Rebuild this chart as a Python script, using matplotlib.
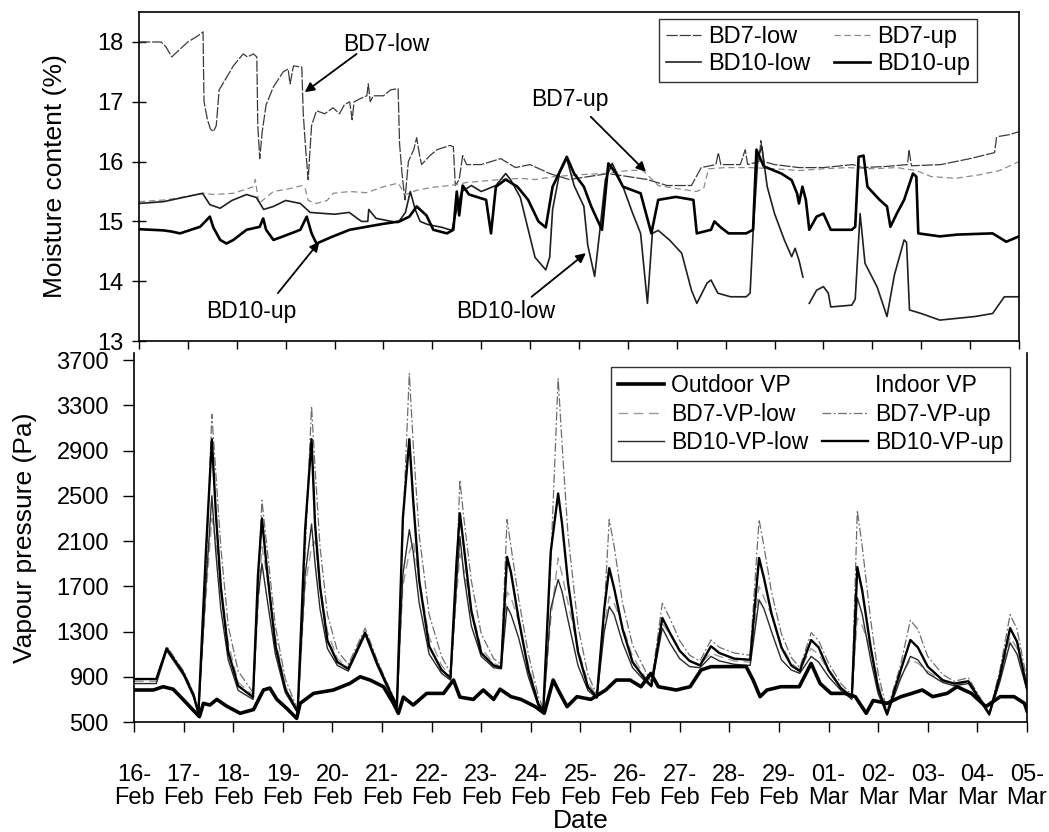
import numpy as np
import matplotlib
matplotlib.use("Agg")
import matplotlib.pyplot as plt
from matplotlib.lines import Line2D

NAN = float("nan")

# ---------------- data ----------------
date_labels = ["16-\nFeb", "17-\nFeb", "18-\nFeb", "19-\nFeb", "20-\nFeb", "21-\nFeb",
               "22-\nFeb", "23-\nFeb", "24-\nFeb", "25-\nFeb", "26-\nFeb", "27-\nFeb",
               "28-\nFeb", "29-\nFeb", "01-\nMar", "02-\nMar", "03-\nMar", "04-\nMar",
               "05-\nMar"]

# moisture content (%) : (day since 16-Feb, value)
bd7_low = [(0, 18.0), (0.45, 18.0), (0.55, 17.92), (0.67, 17.75), (0.8, 17.85), (1.0, 18.0),
           (1.2, 18.1), (1.31, 18.17), (1.33, 17.0), (1.40, 16.7), (1.46, 16.55), (1.52, 16.5),
           (1.58, 16.6), (1.64, 17.2), (1.75, 17.35), (1.93, 17.6), (2.13, 17.8), (2.22, 17.75),
           (2.34, 17.8), (2.41, 17.75), (2.43, 16.6), (2.47, 16.05), (2.52, 16.5), (2.6, 16.95),
           (2.75, 17.25), (2.95, 17.5), (3.05, 17.55), (3.09, 17.3), (3.16, 17.6), (3.33, 17.58),
           (3.36, 16.8), (3.41, 16.2), (3.46, 15.7), (3.53, 16.6), (3.63, 16.85), (3.8, 16.8),
           (3.97, 16.9), (4.1, 16.8), (4.2, 16.95), (4.31, 17.0), (4.36, 16.7), (4.40, 17.0),
           (4.52, 17.05), (4.66, 17.1), (4.69, 17.3), (4.73, 17.0), (4.79, 17.1), (5.0, 17.1),
           (5.15, 17.2), (5.30, 17.22), (5.33, 16.3), (5.38, 15.8), (5.44, 15.36), (5.51, 16.0),
           (5.62, 16.2), (5.68, 16.4), (5.74, 16.1), (5.78, 15.95), (5.95, 16.1), (6.1, 16.2),
           (6.36, 16.27), (6.43, 16.25), (6.47, 15.6), (6.55, 15.7), (6.62, 16.1), (6.7, 15.95),
           (7.0, 15.95), (7.4, 16.05), (7.7, 15.9), (8.0, 15.95), (8.4, 15.8), (8.8, 15.7),
           (9.2, 15.75), (9.6, 15.8), (10.0, 15.75), (10.4, 15.7), (10.8, 15.6), (11.3, 15.6),
           (11.5, 15.9), (11.8, 15.95), (11.85, 16.15), (11.9, 15.95), (12.3, 15.95), (12.4, 16.2),
           (12.45, 15.95), (12.68, 16.0), (12.72, 16.35), (12.78, 16.0), (13.0, 15.95), (13.5, 15.9),
           (14.0, 15.9), (14.6, 15.95), (14.8, 15.9), (15.3, 15.92), (15.72, 15.95), (15.75, 16.2),
           (15.8, 15.93), (16.4, 15.95), (17.0, 16.05), (17.5, 16.15), (17.54, 16.4), (17.58, 16.42),
           (17.8, 16.45), (18.0, 16.5)]

bd7_up = [(0, 15.33), (0.55, 15.36), (0.85, 15.4), (1.32, 15.47), (1.52, 15.45), (1.93, 15.47),
          (2.34, 15.58), (2.38, 15.7), (2.45, 15.3), (2.75, 15.5), (3.1, 15.55), (3.33, 15.6),
          (3.40, 15.55), (3.46, 15.35), (3.63, 15.3), (3.85, 15.35), (3.97, 15.47), (4.31, 15.5),
          (4.65, 15.48), (5.0, 15.58), (5.3, 15.64), (5.45, 15.45), (5.68, 15.52), (6.0, 15.57),
          (6.36, 15.6), (6.7, 15.65), (7.38, 15.7), (7.8, 15.72), (8.1, 15.7), (8.5, 15.75),
          (9.0, 15.78), (9.5, 15.8), (10.0, 15.85), (10.3, 15.86), (10.62, 15.6), (11.0, 15.55),
          (11.4, 15.5), (11.55, 15.55), (11.65, 15.88), (12.0, 15.9), (12.5, 15.9), (13.0, 15.88),
          (13.5, 15.85), (14.0, 15.88), (14.5, 15.9), (15.0, 15.88), (15.5, 15.9), (15.9, 15.85),
          (16.2, 15.75), (16.7, 15.72), (17.2, 15.78), (17.6, 15.85), (18.0, 16.0)]

bd10_low = [(0, 15.3), (0.5, 15.33), (0.9, 15.4), (1.3, 15.47), (1.45, 15.28), (1.66, 15.22),
            (1.9, 15.35), (2.2, 15.45), (2.4, 15.4), (2.55, 15.2), (2.75, 15.25), (3.0, 15.35),
            (3.3, 15.3), (3.5, 15.15), (4.0, 15.12), (4.3, 15.15), (4.55, 15.0), (4.68, 15.0),
            (4.7, 15.2), (4.85, 15.05), (5.3, 14.98), (5.45, 15.15), (5.55, 15.5), (5.65, 15.2),
            (5.75, 15.0), (5.9, 14.95), (6.2, 14.9), (6.4, 14.85), (6.5, 15.2), (6.6, 15.5),
            (6.8, 15.6), (7.0, 15.5), (7.3, 15.6), (7.5, 15.8), (7.6, 15.7), (7.8, 15.4),
            (7.95, 14.9), (8.1, 14.4), (8.32, 14.19), (8.4, 14.4), (8.46, 15.2), (8.6, 15.8),
            (8.75, 16.05), (8.9, 15.6), (9.1, 15.25), (9.18, 14.6), (9.32, 14.08), (9.42, 14.8),
            (9.54, 15.7), (9.68, 15.97), (9.9, 15.58), (10.1, 15.13), (10.26, 14.8), (10.4, 13.63),
            (10.5, 14.8), (10.62, 14.85), (10.85, 14.69), (11.1, 14.47), (11.3, 13.85), (11.41, 13.63),
            (11.62, 13.97), (11.7, 14.02), (11.84, 13.8), (12.1, 13.74), (12.42, 13.74), (12.5, 13.8),
            (12.56, 14.8), (12.66, 16.08), (12.74, 16.25), (12.85, 15.58), (13.0, 15.13), (13.2, 14.69),
            (13.35, 14.41), (13.42, 14.55), (13.5, 14.35), (13.58, 14.07), (13.64, NAN), (13.71, 13.63),
            (13.86, 13.85), (14.0, 13.91), (14.1, 13.8), (14.15, 13.57), (14.58, 13.6), (14.65, 13.7),
            (14.75, 15.13), (14.85, 14.3), (15.1, 13.9), (15.3, 13.41), (15.45, 14.1), (15.65, 14.69),
            (15.7, 14.65), (15.76, 13.52), (16.0, 13.46), (16.38, 13.35), (16.74, 13.38), (17.1, 13.41),
            (17.46, 13.46), (17.7, 13.74), (18.0, 13.74)]

bd10_up = [(0, 14.87), (0.5, 14.85), (0.67, 14.83), (0.84, 14.8), (1.25, 14.91), (1.45, 15.08),
           (1.52, 14.9), (1.66, 14.69), (1.79, 14.63), (1.93, 14.69), (2.2, 14.86), (2.47, 14.91),
           (2.54, 15.05), (2.6, 14.86), (2.75, 14.69), (2.95, 14.75), (3.3, 14.86), (3.43, 15.08),
           (3.53, 14.8), (3.63, 14.63), (3.97, 14.75), (4.31, 14.86), (4.65, 14.91), (5.0, 14.96),
           (5.33, 15.0), (5.53, 15.08), (5.68, 15.25), (5.88, 15.1), (6.02, 14.86), (6.3, 14.8),
           (6.43, 14.86), (6.5, 15.5), (6.55, 15.1), (6.62, 15.6), (6.75, 15.45), (7.1, 15.36),
           (7.2, 14.8), (7.3, 15.58), (7.5, 15.7), (7.74, 15.58), (7.96, 15.36), (8.17, 15.0),
           (8.32, 14.9), (8.46, 15.58), (8.75, 16.08), (8.9, 15.8), (9.1, 15.58), (9.25, 15.25),
           (9.47, 14.86), (9.6, 15.97), (9.76, 15.8), (9.9, 15.58), (10.26, 15.47), (10.48, 14.8),
           (10.62, 15.36), (10.98, 15.41), (11.34, 15.36), (11.41, 14.8), (11.7, 14.86), (11.77, 15.0),
           (11.9, 14.9), (12.06, 14.8), (12.42, 14.8), (12.56, 14.86), (12.63, 16.2), (12.78, 15.92),
           (13.14, 15.8), (13.35, 15.69), (13.46, 15.47), (13.5, 15.3), (13.57, 15.58), (13.64, 15.36),
           (13.71, 14.86), (13.86, 15.08), (14.0, 15.13), (14.15, 14.86), (14.58, 14.86), (14.65, 14.91),
           (14.72, 16.08), (14.82, 16.1), (14.9, 15.58), (15.15, 15.36), (15.3, 15.25), (15.37, 14.91),
           (15.5, 15.13), (15.65, 15.36), (15.83, 15.8), (15.9, 15.75), (15.94, 14.8), (16.38, 14.75),
           (16.74, 14.78), (17.46, 14.8), (17.74, 14.66), (18.0, 14.75)]

# vapour pressure (Pa)
outdoor_vp = [(0.0, 783), (0.39, 783), (0.59, 812), (0.79, 790), (0.99, 700), (1.16, 620),
              (1.32, 547), (1.40, 665), (1.53, 650), (1.67, 700), (1.87, 640), (2.14, 577),
              (2.41, 610), (2.61, 783), (2.74, 800), (2.88, 700), (3.08, 620), (3.28, 532),
              (3.35, 665), (3.62, 753), (4.02, 783), (4.35, 841), (4.56, 900), (4.76, 871),
              (5.03, 812), (5.23, 665), (5.33, 577), (5.43, 720), (5.63, 650), (5.9, 753),
              (6.24, 753), (6.44, 871), (6.57, 720), (6.84, 700), (7.04, 783), (7.25, 700),
              (7.38, 790), (7.6, 724), (7.8, 700), (8.09, 636), (8.27, 577), (8.45, 871),
              (8.55, 783), (8.73, 636), (8.93, 724), (9.21, 700), (9.51, 783), (9.72, 871),
              (10.0, 871), (10.22, 812), (10.42, 930), (10.57, 812), (10.93, 783), (11.21, 812),
              (11.43, 960), (11.63, 989), (11.99, 990), (12.34, 990), (12.48, 871), (12.62, 724),
              (12.76, 783), (13.04, 812), (13.41, 812), (13.65, 1018), (13.83, 841), (14.05, 753),
              (14.33, 753), (14.54, 724), (14.76, 577), (14.9, 690), (15.18, 665), (15.46, 724),
              (15.68, 753), (15.89, 783), (16.1, 724), (16.39, 753), (16.59, 812), (16.88, 753),
              (17.17, 636), (17.46, 724), (17.74, 724), (17.95, 665), (18.0, 600)]

vp_days = [0, 0.45, 0.66, 1.0, 1.2, 1.3,
           1.45, 1.57, 1.65, 1.75, 1.9, 2.1, 2.4,
           2.5, 2.58, 2.68, 2.85, 3.05, 3.3,
           3.45, 3.58, 3.65, 3.75, 3.9, 4.1, 4.32,
           4.66, 4.9, 5.15, 5.3,
           5.42, 5.55, 5.63, 5.75, 5.95, 6.2, 6.38,
           6.5, 6.57, 6.65, 6.8, 7.0, 7.25, 7.4,
           7.52, 7.6, 7.75, 7.95, 8.15, 8.25,
           8.4, 8.55, 8.63, 8.75, 8.95, 9.15, 9.33,
           9.48, 9.58, 9.68, 9.85, 10.05, 10.3, 10.43,
           10.65, 10.8, 11.0, 11.2, 11.41,
           11.63, 11.8, 12.1, 12.42,
           12.6, 12.7, 12.85, 13.05, 13.25, 13.42,
           13.65, 13.8, 14.0, 14.25, 14.47,
           14.58, 14.68, 14.85, 15.0, 15.18,
           15.45, 15.65, 15.8, 16.0, 16.3, 16.53,
           16.82, 17.05, 17.24,
           17.45, 17.66, 17.8, 18.0]

bd7_vp_up = [880, 880, 1170, 950, 760, 600,
             1800, 3220, 2700, 2050, 1350, 950, 760,
             1700, 2460, 2050, 1350, 880, 610,
             2000, 3290, 2750, 2050, 1450, 1130, 1010,
             1330, 1050, 800, 660,
             2200, 3580, 2950, 2150, 1450, 1080, 930,
             1800, 2640, 2300, 1750, 1280, 1060, 1010,
             2290, 2050, 1600, 1100, 730, 620,
             1900, 3540, 2950, 2150, 1350, 920, 740,
             1500, 2290, 2050, 1550, 1180, 960, 850,
             1550, 1420, 1220, 1090, 1040,
             1225, 1160, 1110, 1090,
             2290, 2050, 1650, 1280, 1070, 980,
             1290, 1220, 1020, 840, 740,
             2370, 2050, 1400, 930, 600,
             1000, 1400, 1320, 1080, 920, 860,
             890, 720, 580,
             950, 1450, 1320, 870]

bd10_vp_up = [880, 880, 1150, 930, 740, 580,
              2000, 3000, 2350, 1700, 1120, 820, 720,
              1800, 2300, 1850, 1180, 790, 590,
              2200, 3000, 2250, 1700, 1220, 1030, 970,
              1290, 1020, 780, 640,
              2300, 3000, 2450, 1750, 1170, 960, 890,
              1900, 2345, 2050, 1480, 1110, 1000, 980,
              1960, 1820, 1420, 960, 660, 600,
              2000, 2520, 2250, 1730, 1120, 810, 720,
              1500, 1860, 1680, 1320, 1030, 880, 820,
              1420, 1290, 1130, 1040, 1000,
              1170, 1110, 1060, 1050,
              1950, 1770, 1460, 1160, 1000, 950,
              1225, 1160, 960, 800, 720,
              1870, 1660, 1160, 800, 570,
              950, 1225, 1160, 990, 870, 840,
              860, 700, 570,
              900, 1330, 1210, 800]

bd10_vp_low = [840, 840, 1130, 910, 720, 570,
               1700, 2500, 2000, 1500, 1050, 780, 700,
               1600, 1900, 1600, 1100, 760, 580,
               1800, 2250, 1900, 1500, 1150, 1000, 950,
               1270, 1000, 760, 630,
               1800, 2200, 2000, 1550, 1100, 930, 870,
               1700, 2140, 1800, 1350, 1080, 980, 970,
               1520, 1450, 1250, 900, 640, 590,
               1500, 1760, 1650, 1400, 1000, 780, 710,
               1300, 1520, 1450, 1200, 980, 860, 810,
               1330, 1200, 1060, 990, 980,
               1080, 1040, 1010, 1000,
               1580, 1500, 1300, 1050, 960, 930,
               1080, 1030, 900, 780, 700,
               1600, 1450, 1050, 750, 560,
               880, 1080, 1050, 930, 850, 820,
               840, 690, 560,
               850, 1200, 1100, 780]

bd7_vp_low = [860, 860, 1160, 940, 750, 590,
              1600, 2300, 2100, 1700, 1200, 850, 740,
              1500, 2050, 1800, 1250, 820, 600,
              1700, 2050, 2100, 1700, 1300, 1060, 980,
              1300, 1030, 790, 650,
              1700, 2000, 2100, 1750, 1250, 1000, 900,
              1600, 1990, 1850, 1500, 1150, 1020, 990,
              1650, 1600, 1400, 1000, 680, 610,
              1400, 1950, 1800, 1550, 1150, 850, 730,
              1350, 1610, 1550, 1350, 1080, 900, 830,
              1370, 1280, 1130, 1040, 1010,
              1110, 1080, 1040, 1030,
              1700, 1600, 1450, 1180, 1020, 960,
              1150, 1100, 950, 800, 730,
              1420, 1350, 1150, 850, 590,
              900, 1050, 1020, 950, 860, 830,
              850, 700, 570,
              870, 1250, 1150, 800]


def split(pairs):
    arr = np.array(pairs, dtype=float)
    return arr[:, 0], arr[:, 1]


# ---------------- figure ----------------
plt.rcParams["font.family"] = ["Liberation Sans", "DejaVu Sans"]

fig = plt.figure(figsize=(10.49, 8.32), dpi=100)
ax1 = fig.add_axes([0.1325, 0.5901, 0.8389, 0.3954])
ax2 = fig.add_axes([0.1277, 0.1322, 0.8513, 0.4435])

# --- moisture content panel ---
mc_styles = {
    "BD7-low": (bd7_low, dict(color="#3a3a3a", lw=0.9, ls=(0, (9, 1.5)))),
    "BD7-up": (bd7_up, dict(color="#8a8a8a", lw=0.9, ls=(0, (5, 3)))),
    "BD10-low": (bd10_low, dict(color="#202020", lw=1.2, ls="-")),
    "BD10-up": (bd10_up, dict(color="black", lw=1.9, ls="-")),
}
mc_lines = {}
for name, (pairs, st) in mc_styles.items():
    x, y = split(pairs)
    mc_lines[name], = ax1.plot(x, y, **st)

ax1.set_xlim(0, 18)
ax1.set_ylim(13, 18.5)
ax1.set_yticks([13, 14, 15, 16, 17, 18])
ax1.set_xticks(range(19))
ax1.set_xticklabels([])
ax1.tick_params(axis="y", direction="inout", length=10, width=1, pad=6, labelsize=17)
ax1.tick_params(axis="x", direction="out", length=6, width=1)
for sp in ax1.spines.values():
    sp.set_linewidth(1.2)
ax1.set_ylabel("Moisture content (%)", fontsize=19, labelpad=22)

# legend filled row by row: BD7-low, BD7-up / BD10-low, BD10-up
leg1_names = ["BD7-low", "BD10-low", "BD7-up", "BD10-up"]
leg1 = ax1.legend([mc_lines[k] for k in leg1_names], leg1_names,
                  loc="upper right", bbox_to_anchor=(0.952, 0.979), ncol=2,
                  fontsize=17, frameon=True, fancybox=False, edgecolor="black",
                  borderaxespad=0, handlelength=1.5, handletextpad=0.3,
                  columnspacing=1.0, labelspacing=0.2, borderpad=0.3)
leg1.get_frame().set_linewidth(1.0)

arrow = dict(arrowstyle="-|>", color="black", lw=1.3, mutation_scale=14,
             shrinkA=0, shrinkB=0)
ann_font = dict(fontsize=16.5, ha="center", va="center")
ax1.text(5.05, 17.95, "BD7-low", **ann_font)
ax1.annotate("", xy=(3.39, 17.16), xytext=(4.45, 17.8), arrowprops=arrow)
ax1.text(2.29, 13.49, "BD10-up", **ann_font)
ax1.annotate("", xy=(3.69, 14.66), xytext=(2.84, 13.8), arrowprops=arrow)
ax1.text(8.82, 17.03, "BD7-up", **ann_font)
ax1.annotate("", xy=(10.37, 15.83), xytext=(9.24, 16.75), arrowprops=arrow)
ax1.text(7.5, 13.49, "BD10-low", **ann_font)
ax1.annotate("", xy=(9.14, 14.47), xytext=(8.03, 13.74), arrowprops=arrow)

# --- vapour pressure panel ---
x, y = split(outdoor_vp)
ax2.plot(x, y, color="black", lw=2.6, zorder=5)
vp_styles = [
    ("BD7-VP-low", bd7_vp_low, dict(color="#9a9a9a", lw=1.0, ls=(0, (7, 4)))),
    ("BD7-VP-up", bd7_vp_up, dict(color="#6e6e6e", lw=0.9, ls=(0, (7, 2, 1.5, 2)))),
    ("BD10-VP-low", bd10_vp_low, dict(color="#2a2a2a", lw=1.0, ls="-")),
    ("BD10-VP-up", bd10_vp_up, dict(color="black", lw=1.7, ls="-")),
]
handles = {"Outdoor VP": Line2D([], [], color="black", lw=2.6),
           "Indoor VP": Line2D([], [], color="white", lw=0)}
for name, vals, st in vp_styles:
    ax2.plot(vp_days, vals, **st)
    handles[name] = Line2D([], [], **st)

# columns: left = Outdoor / BD7-VP-low / BD10-VP-low, right = Indoor / BD7-VP-up / BD10-VP-up
leg2_names = ["Outdoor VP", "BD7-VP-low", "BD10-VP-low", "Indoor VP", "BD7-VP-up", "BD10-VP-up"]
leg2 = ax2.legend([handles[k] for k in leg2_names], leg2_names, loc="upper right",
                  bbox_to_anchor=(0.981, 0.962), ncol=2, fontsize=16.5, frameon=True,
                  fancybox=False, edgecolor="black", borderaxespad=0, handlelength=2.0,
                  handletextpad=0.3, columnspacing=0.6, labelspacing=0.25, borderpad=0.3)
leg2.get_frame().set_linewidth(1.0)

ax2.set_xlim(0, 18)
ax2.set_ylim(500, 3762)
ax2.set_yticks(range(500, 3701, 400))
ax2.set_xticks(range(19))
ax2.set_xticklabels(date_labels)
ax2.tick_params(axis="y", direction="out", length=8, width=1, pad=10, labelsize=17)
ax2.tick_params(axis="x", direction="out", length=7, width=1, pad=23, labelsize=17)
for lab in ax2.get_xticklabels():
    lab.set_linespacing(1.05)
ax2.spines["top"].set_visible(False)
for sp in ("left", "bottom", "right"):
    ax2.spines[sp].set_linewidth(1.2)
ax2.set_ylabel("Vapour pressure (Pa)", fontsize=19, labelpad=14)
ax2.set_xlabel("Date", fontsize=19, labelpad=0)

fig.savefig("out.png", dpi=100)
